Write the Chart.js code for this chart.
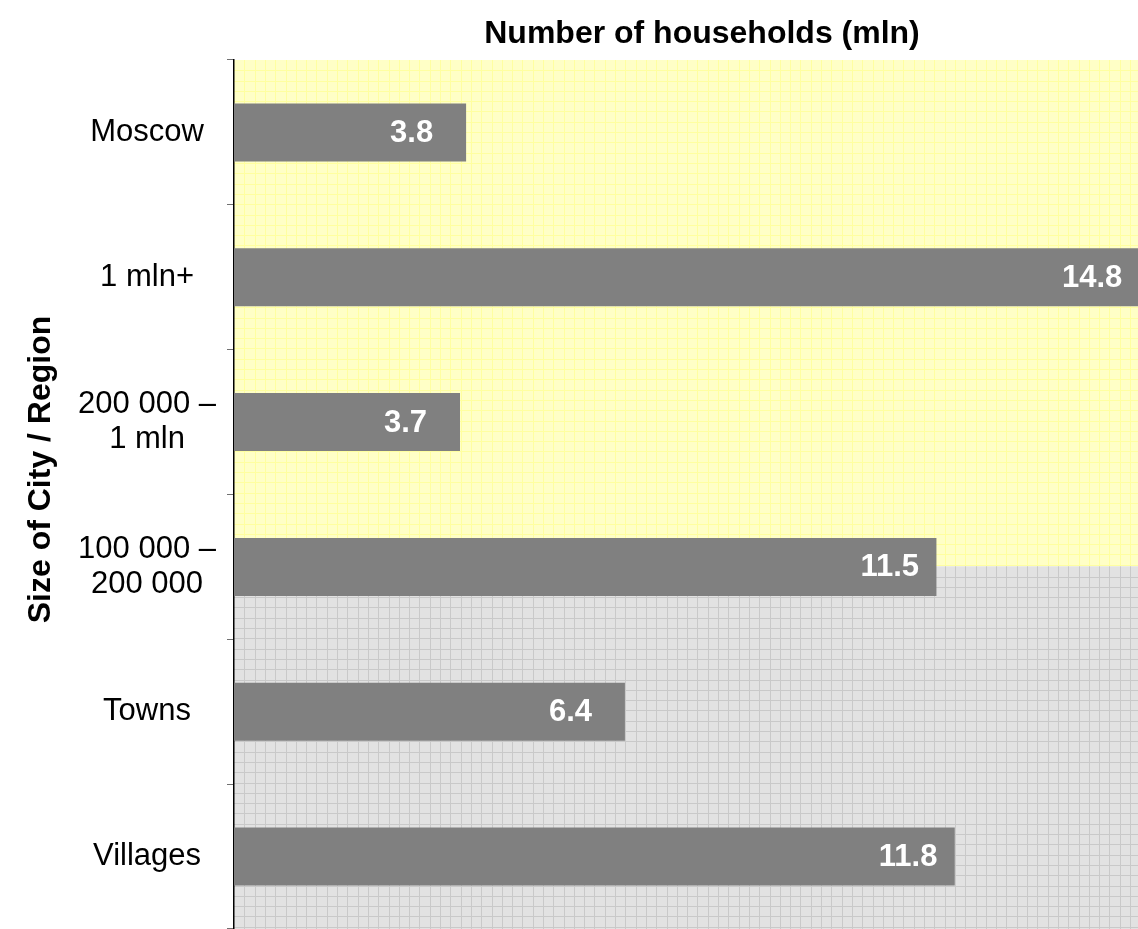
<!DOCTYPE html>
<html>
<head>
<meta charset="utf-8">
<script src="https://cdn.jsdelivr.net/npm/chart.js@4"></script>
<style>
  html, body { margin: 0; padding: 0; background: #ffffff; }
  #wrap { width: 1138px; height: 929px; position: relative; }
</style>
</head>
<body>
<div id="wrap"><canvas id="c"></canvas></div>
<script>
const categories = ['Moscow', '1 mln+', ['200 000 –', '1 mln'], ['100 000 –', '200 000'], 'Towns', 'Villages'];
const households = [3.8, 14.8, 3.7, 11.5, 6.4, 11.8];
const valueLabels = ['3.8', '14.8', '3.7', '11.5', '6.4', '11.8'];
const xTitle = 'Number of households (mln)';
const yTitle = 'Size of City / Region';

const FONT = '"Liberation Sans", Arial, sans-serif';

const backgroundPlugin = {
  id: 'bgGrid',
  beforeDraw(chart) {
    const { ctx, chartArea: a } = chart;
    const split = a.top + (a.bottom - a.top) * 0.5826;
    ctx.save();
    ctx.fillStyle = '#ffffc6';
    ctx.fillRect(a.left, a.top, a.right - a.left, split - a.top);
    ctx.fillStyle = '#e2e2e2';
    ctx.fillRect(a.left, split, a.right - a.left, a.bottom - split);
    const step = 10.3;
    ctx.lineWidth = 1;
    ctx.beginPath();
    for (let x = a.left + step; x < a.right; x += step) {
      ctx.moveTo(Math.round(x) + 0.5, a.top);
      ctx.lineTo(Math.round(x) + 0.5, split);
    }
    for (let y = a.top + step; y < split; y += step) {
      ctx.moveTo(a.left, Math.round(y) + 0.5);
      ctx.lineTo(a.right, Math.round(y) + 0.5);
    }
    ctx.strokeStyle = '#ffffa0';
    ctx.stroke();
    ctx.beginPath();
    for (let x = a.left + step; x < a.right; x += step) {
      ctx.moveTo(Math.round(x) + 0.5, split);
      ctx.lineTo(Math.round(x) + 0.5, a.bottom);
    }
    for (let y = split + step; y < a.bottom; y += step) {
      ctx.moveTo(a.left, Math.round(y) + 0.5);
      ctx.lineTo(a.right, Math.round(y) + 0.5);
    }
    ctx.strokeStyle = '#c9c9c9';
    ctx.stroke();
    ctx.restore();
  }
};

const labelsPlugin = {
  id: 'valueLabels',
  afterDatasetsDraw(chart) {
    const { ctx } = chart;
    const meta = chart.getDatasetMeta(0);
    ctx.save();
    ctx.font = 'bold 31px ' + FONT;
    ctx.fillStyle = '#ffffff';
    ctx.textAlign = 'left';
    ctx.textBaseline = 'middle';
    meta.data.forEach((bar, i) => {
      ctx.fillText(valueLabels[i], bar.x - 76, bar.y + 1);
    });
    ctx.restore();
  }
};

const titlesPlugin = {
  id: 'titles',
  afterDraw(chart) {
    const { ctx, chartArea: a } = chart;
    ctx.save();
    ctx.fillStyle = '#000000';
    ctx.font = 'bold 32px ' + FONT;
    ctx.textAlign = 'center';
    ctx.textBaseline = 'alphabetic';
    ctx.fillText(xTitle, (a.left + a.right) / 2 + 16, 43);
    ctx.translate(50, (a.top + a.bottom) / 2 - 25);
    ctx.rotate(-Math.PI / 2);
    ctx.fillText(yTitle, 0, 0);
    ctx.restore();
  }
};

new Chart(document.getElementById('c'), {
  type: 'bar',
  data: {
    labels: categories,
    datasets: [{
      data: households,
      backgroundColor: '#808080',
      borderWidth: 0,
      barPercentage: 0.4,
      categoryPercentage: 1.0
    }]
  },
  options: {
    indexAxis: 'y',
    responsive: true,
    maintainAspectRatio: false,
    animation: false,
    layout: { padding: { top: 60, left: 0, right: 0, bottom: 0 } },
    plugins: {
      legend: { display: false },
      tooltip: { enabled: false },
      title: { display: false }
    },
    scales: {
      x: {
        display: false,
        min: 0,
        max: 14.8
      },
      y: {
        offset: true,
        afterFit(scale) {
          scale.width = 234;
          scale.paddingTop = 0;
          scale.paddingBottom = 0;
        },
        grid: {
          display: true,
          offset: true,
          drawOnChartArea: false,
          drawTicks: true,
          tickLength: 7,
          color: '#707070',
          lineWidth: 1
        },
        border: { display: true, color: '#000000', width: 1.5 },
        ticks: {
          color: '#000000',
          font: { family: FONT, size: 31, lineHeight: 1.15 },
          crossAlign: 'center',
          padding: 11
        }
      }
    }
  },
  plugins: [backgroundPlugin, labelsPlugin, titlesPlugin]
});
</script>
</body>
</html>
